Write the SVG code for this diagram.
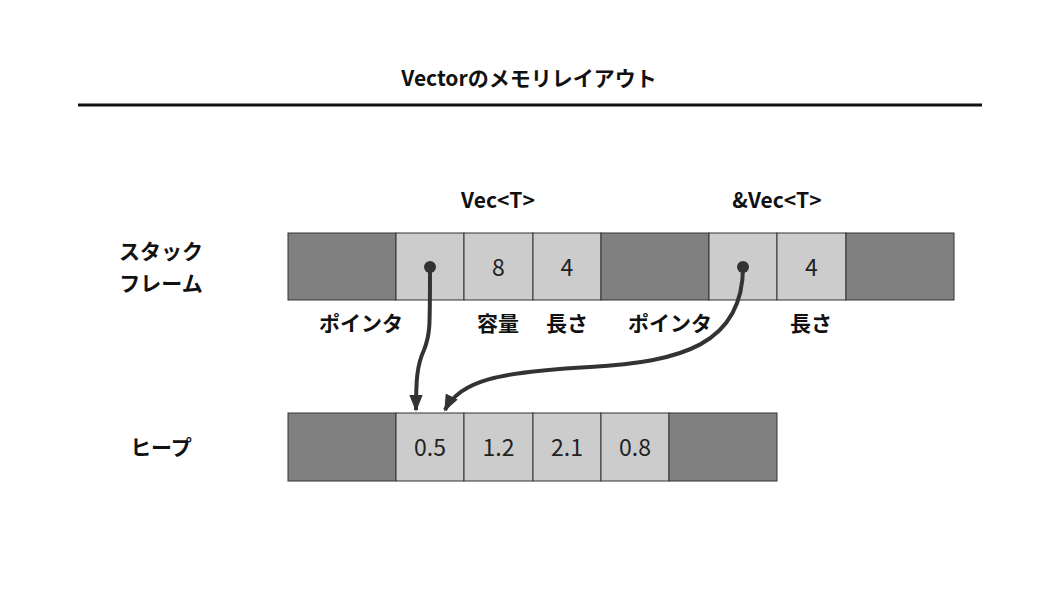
<svg xmlns="http://www.w3.org/2000/svg" width="1058" height="595" viewBox="0 0 1058 595">
<style>
.t{font-family:"Noto Sans CJK JP","Noto Sans",sans-serif;fill:#111;text-anchor:middle}
.b{font-weight:bold;font-size:21px}
.h{font-weight:bold;font-size:21px}
.v{font-size:23px;font-weight:normal;fill:#222}
.dk{fill:#808080;stroke:#333;stroke-width:1}
.lt{fill:#cccccc;stroke:#333;stroke-width:1}
.c{fill:none;stroke:#333;stroke-width:4}
</style>
<defs>
<marker id="ah" viewBox="0 0 10 10" refX="9" refY="5" markerWidth="4.2" markerHeight="4.2" orient="auto" markerUnits="strokeWidth">
<path d="M0,1 L10,5 L0,9 Z" fill="#333"/>
</marker>
</defs>
<rect width="1058" height="595" fill="#fff"/>
<g id="title">
<text class="t h" x="529" y="86">Vectorのメモリレイアウト</text>
<line x1="78" y1="105" x2="982" y2="105" stroke="#111" stroke-width="3"/>
</g>
<g id="row-labels">
<text class="t b" x="161" y="259">スタック</text>
<text class="t b" x="161" y="291">フレーム</text>
<text class="t b" x="161" y="455">ヒープ</text>
</g>
<g id="stack">
<rect class="dk" x="288" y="233" width="108" height="67"/>
<rect class="lt" x="396" y="233" width="68" height="67"/>
<rect class="lt" x="464" y="233" width="69" height="67"/>
<rect class="lt" x="533" y="233" width="68" height="67"/>
<rect class="dk" x="601" y="233" width="108" height="67"/>
<rect class="lt" x="709" y="233" width="68" height="67"/>
<rect class="lt" x="777" y="233" width="69" height="67"/>
<rect class="dk" x="846" y="233" width="108" height="67"/>
<text class="t v" x="498.5" y="276">8</text>
<text class="t v" x="567" y="276">4</text>
<text class="t v" x="811.5" y="276">4</text>
</g>
<g id="stack-labels">
<text class="t b" x="498" y="208">Vec&lt;T&gt;</text>
<text class="t b" x="777" y="208">&amp;Vec&lt;T&gt;</text>
<text class="t b" x="361" y="331">ポインタ</text>
<text class="t b" x="498" y="331">容量</text>
<text class="t b" x="567" y="331">長さ</text>
<text class="t b" x="670" y="331">ポインタ</text>
<text class="t b" x="811" y="331">長さ</text>
</g>
<g id="heap">
<rect class="dk" x="288" y="413" width="108" height="68"/>
<rect class="lt" x="396" y="413" width="68" height="68"/>
<rect class="lt" x="464" y="413" width="69" height="68"/>
<rect class="lt" x="533" y="413" width="68" height="68"/>
<rect class="lt" x="601" y="413" width="68" height="68"/>
<rect class="dk" x="669" y="413" width="108" height="68"/>
<text class="t v" x="430" y="456">0.5</text>
<text class="t v" x="498.5" y="456">1.2</text>
<text class="t v" x="567" y="456">2.1</text>
<text class="t v" x="635" y="456">0.8</text>
</g>
<g id="connectors">
<circle cx="430" cy="267" r="6" fill="#333"/>
<circle cx="743" cy="267" r="6" fill="#333"/>
<path class="c" d="M430,267 C430,330 430,335 424,350 C417,365 416,380 416,410" marker-end="url(#ah)"/>
<path class="c" d="M743,267 C743,345 680,362 590,367 C500,372 460,380 445,410" marker-end="url(#ah)"/>
</g>
</svg>
